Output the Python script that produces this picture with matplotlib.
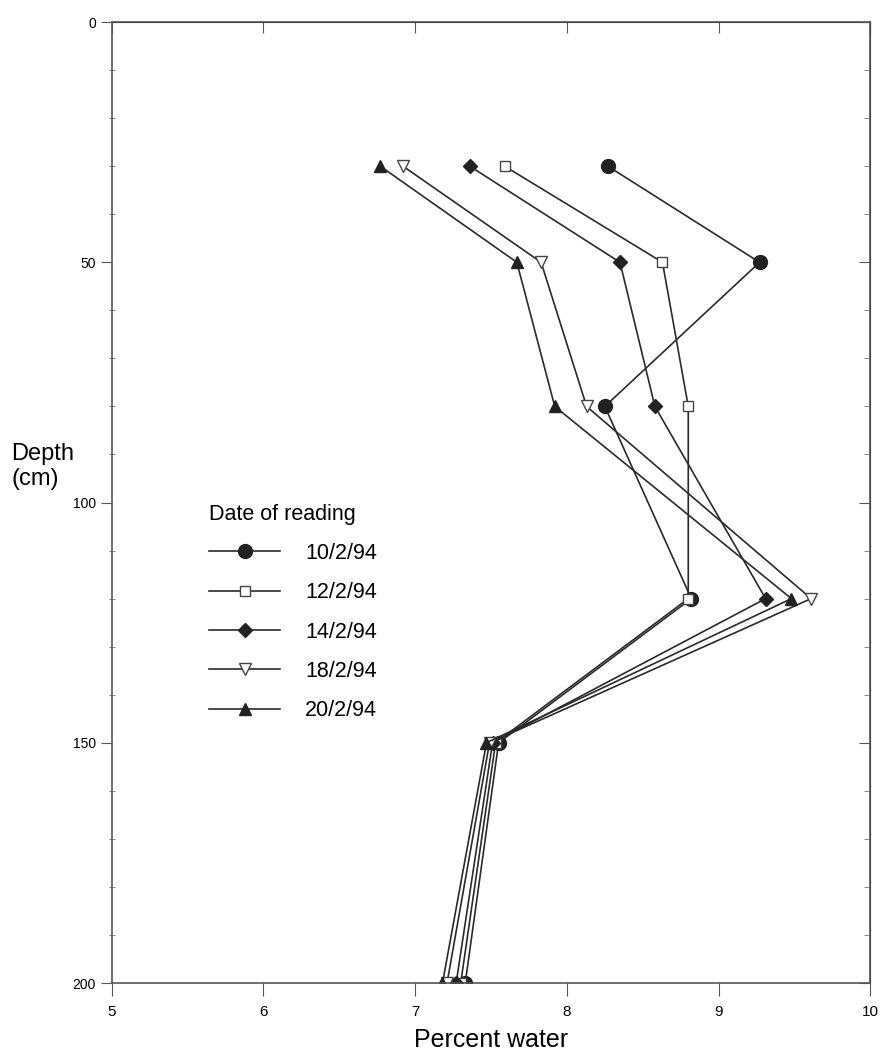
import matplotlib.pyplot as plt
from matplotlib.ticker import MultipleLocator

plt.rcParams['font.family'] = ['Liberation Sans', 'DejaVu Sans']

# profundidades de lectura (cm)
depth = [30, 50, 80, 120, 150, 200]

# porcentaje de agua por fecha
w_10feb = [8.27, 9.27, 8.25, 8.82, 7.55, 7.33]
w_12feb = [7.59, 8.63, 8.80, 8.80, 7.53, 7.30]
w_14feb = [7.36, 8.35, 8.58, 9.31, 7.51, 7.27]
w_18feb = [6.92, 7.83, 8.13, 9.61, 7.49, 7.21]
w_20feb = [6.77, 7.67, 7.92, 9.48, 7.47, 7.18]

dates = ['10/2/94', '12/2/94', '14/2/94', '18/2/94', '20/2/94']

fig = plt.figure(figsize=(8.8, 10.51), dpi=100)
ax = fig.add_axes([0.127, 0.0647, 0.862, 0.9143])

lc = '#2a2a2a'
ax.plot(w_10feb, depth, color=lc, lw=1.2, marker='o', ms=10, mfc='#222222', mec='#222222', label=dates[0])
ax.plot(w_12feb, depth, color=lc, lw=1.2, marker='s', ms=7, mfc='white', mec='#444444', mew=1, label=dates[1])
ax.plot(w_14feb, depth, color=lc, lw=1.2, marker='D', ms=7.5, mfc='#222222', mec='#222222', label=dates[2])
ax.plot(w_18feb, depth, color=lc, lw=1.2, marker='v', ms=8.5, mfc='white', mec='#444444', mew=1, label=dates[3])
ax.plot(w_20feb, depth, color=lc, lw=1.2, marker='^', ms=8, mfc='#222222', mec='#222222', label=dates[4])

ax.set_xlim(5, 10)
ax.set_ylim(200, 0)
ax.xaxis.set_major_locator(MultipleLocator(1))
ax.yaxis.set_major_locator(MultipleLocator(50))
ax.yaxis.set_minor_locator(MultipleLocator(10))

for s in ax.spines.values():
    s.set_color('#555555')
    s.set_linewidth(1.2)

ax.tick_params(axis='x', which='major', direction='out', length=9, labelsize=11, color='#555555', pad=7)
ax.tick_params(axis='y', which='major', direction='out', length=8, labelsize=10, color='#555555')
ax.tick_params(axis='y', which='minor', direction='inout', length=5, color='#777777')

# ticks hacia adentro arriba y a la derecha
top = ax.secondary_xaxis('top')
top.xaxis.set_major_locator(MultipleLocator(1))
top.tick_params(direction='in', length=8, labeltop=False, color='#555555')
right = ax.secondary_yaxis('right')
right.yaxis.set_major_locator(MultipleLocator(50))
right.yaxis.set_minor_locator(MultipleLocator(10))
right.tick_params(which='major', direction='in', length=8, labelright=False, color='#555555')
right.tick_params(which='minor', direction='in', length=4, color='#777777')

ax.set_xlabel('Percent water', fontsize=18, labelpad=6)
fig.text(0.013, 0.556, 'Depth\n(cm)', fontsize=17, ha='left', va='center', linespacing=1.15)

leg = ax.legend(title='Date of reading', loc='upper left', bbox_to_anchor=(0.103, 0.519),
                frameon=False, fontsize=15.5, title_fontsize=15.5, handlelength=3.3,
                labelspacing=0.85, handletextpad=1.15, alignment='left')

fig.savefig('out.png', dpi=100)
